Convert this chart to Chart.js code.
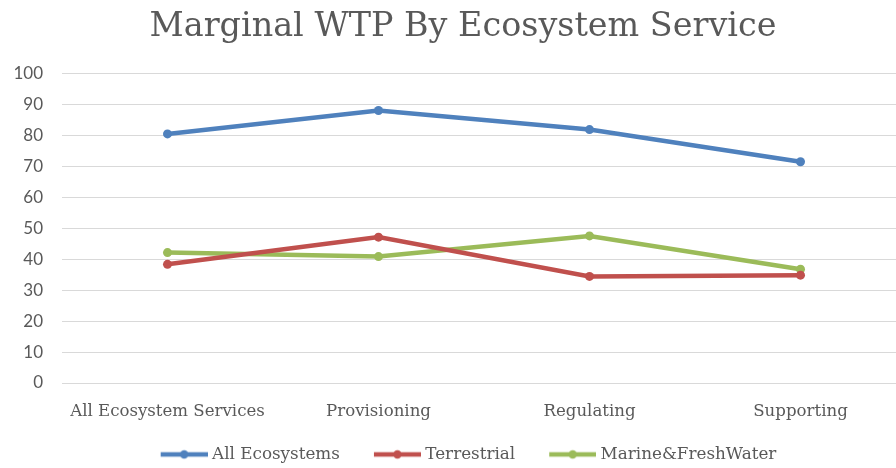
<!DOCTYPE html>
<html>
<head>
<meta charset="utf-8">
<script src="https://cdn.jsdelivr.net/npm/chart.js@4/dist/chart.umd.min.js"></script>
<style>
  html, body { margin: 0; padding: 0; background: #fff; overflow: hidden; }
  #wrap { width: 926px; height: 468px; }
</style>
</head>
<body>
<div id="wrap"><canvas id="c" width="926" height="468"></canvas></div>
<script>
const categories = ["All Ecosystem Services", "Provisioning", "Regulating", "Supporting"];
const allEcosystems = [80.6, 88.2, 82.0, 71.6];
const terrestrial = [38.4, 47.2, 34.5, 34.9];
const marineFreshWater = [42.2, 40.9, 47.6, 36.8];
const seriesNames = ["All Ecosystems", "Terrestrial", "Marine&FreshWater"];
const seriesColors = ["#4F81BD", "#C0504D", "#9BBB59"];
const yTicks = [0, 10, 20, 30, 40, 50, 60, 70, 80, 90, 100];

const GRAY = "#595959";
const SERIF = "'DejaVu Serif', 'Liberation Serif', serif";

function legendIcon(color) {
  const c = document.createElement('canvas');
  c.width = 62; c.height = 12;
  const g = c.getContext('2d');
  g.strokeStyle = color; g.lineWidth = 4.5;
  g.beginPath(); g.moveTo(15, 6); g.lineTo(62, 6); g.stroke();
  g.fillStyle = color;
  g.beginPath(); g.arc(38.5, 6, 4.2, 0, Math.PI * 2); g.fill();
  return c;
}
const icons = seriesColors.map(legendIcon);

const values = [allEcosystems, terrestrial, marineFreshWater];
const datasets = values.map((v, i) => ({
  label: seriesNames[i],
  data: v,
  borderColor: seriesColors[i],
  backgroundColor: seriesColors[i],
  borderWidth: 4.5,
  pointRadius: 4.5,
  pointHoverRadius: 4.5,
  pointBorderWidth: 0,
  tension: 0,
  yAxisID: 'y'
}));

new Chart(document.getElementById('c'), {
  type: 'line',
  data: { labels: categories, datasets },
  options: {
    responsive: false,
    devicePixelRatio: 1,
    animation: false,
    layout: { padding: 0 },
    plugins: {
      title: {
        display: true,
        text: "Marginal WTP By Ecosystem Service",
        color: GRAY,
        font: { family: SERIF, size: 33.4, weight: 'normal' },
        padding: { top: 7, bottom: 26.9 }
      },
      legend: {
        position: 'bottom',
        maxHeight: 45,
        labels: {
          usePointStyle: true,
          pointStyleWidth: 54,
          boxHeight: 12,
          padding: 23,
          color: GRAY,
          font: { family: SERIF, size: 16.8 },
          generateLabels: (chart) => {
            const items = Chart.defaults.plugins.legend.labels.generateLabels(chart);
            items.forEach((it) => { it.pointStyle = icons[it.datasetIndex]; it.lineWidth = 0; });
            return items;
          }
        }
      },
      tooltip: { enabled: false }
    },
    scales: {
      x: {
        offset: true,
        grid: { display: false },
        border: { display: false },
        ticks: { color: GRAY, font: { family: SERIF, size: 16.6 }, padding: 11, maxRotation: 0, autoSkip: false },
        afterFit: (s) => { s.height = 40; }
      },
      y: {
        min: 0, max: 100,
        afterBuildTicks: (s) => { s.ticks = yTicks.map(v => ({ value: v })); },
        grid: { color: '#d9d9d9', lineWidth: 1, drawTicks: false },
        border: { display: false },
        ticks: { color: GRAY, font: { family: "Lato, 'Liberation Sans', sans-serif", size: 17 }, padding: 19 },
        afterFit: (s) => { s.width = 62; }
      },
      y2: {
        position: 'right',
        display: true,
        min: 0, max: 100,
        grid: { display: false, drawTicks: false },
        border: { display: false },
        ticks: { display: false },
        afterFit: (s) => { s.width = 20; }
      }
    }
  }
});
</script>
</body>
</html>
